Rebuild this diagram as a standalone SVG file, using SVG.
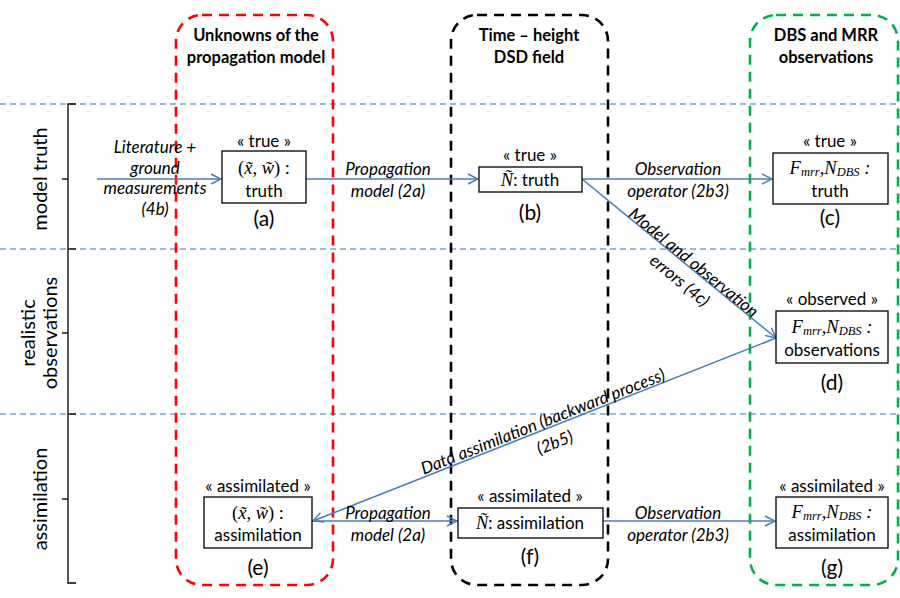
<svg xmlns="http://www.w3.org/2000/svg" width="900" height="598" viewBox="0 0 900 598">
<defs>
<marker id="arr" viewBox="0 0 12 12" refX="11" refY="6" markerWidth="12" markerHeight="12" markerUnits="userSpaceOnUse" orient="auto">
<path d="M1,1 L11,6 L1,11" fill="none" stroke="#4a7ebb" stroke-width="1.5"/>
</marker>
<style>
.t{font-family:Lato,"Open Sans","Liberation Sans",sans-serif;font-size:17px;fill:#000;text-anchor:middle}
.h{font-family:Lato,"Open Sans","Liberation Sans",sans-serif;font-size:16.5px;font-weight:bold;fill:#000;text-anchor:middle}
.i{font-family:Lato,"Open Sans","Liberation Sans",sans-serif;font-size:17px;font-style:italic;fill:#000;text-anchor:middle}
.side{font-family:Lato,"Open Sans","Liberation Sans",sans-serif;font-size:20px;fill:#000;text-anchor:middle}
.lbl{font-size:21px}
.m{font-family:"Liberation Serif","DejaVu Serif",serif;font-style:italic;font-size:18.5px}
.n{font-style:normal}
.sub{font-size:12.5px}
.box{fill:#fff;stroke:#000;stroke-width:1.3}
.conn{stroke:#4a7ebb;stroke-width:1.6;fill:none;marker-end:url(#arr)}
.hd{stroke:#7aa3d4;stroke-width:1.3;stroke-dasharray:6,4}
.col{fill:none;stroke-width:2.6;stroke-dasharray:10,7}
</style>
</defs>
<rect width="900" height="598" fill="#fff"/>
<g id="grid">
<line class="hd" x1="0" y1="104" x2="900" y2="104"/>
<line class="hd" x1="0" y1="249" x2="900" y2="249"/>
<line class="hd" x1="0" y1="414" x2="900" y2="414"/>
</g>
<g id="columns">
<rect class="col" x="176" y="15" width="157" height="570" rx="26" stroke="#ff0000"/>
<rect class="col" x="451" y="15" width="157" height="570" rx="26" stroke="#000"/>
<rect class="col" x="750" y="15" width="148" height="570" rx="26" stroke="#00b050"/>
<text class="h" x="256" y="41">Unknowns of the</text>
<text class="h" x="256" y="63">propagation model</text>
<text class="h" x="529" y="41">Time – height</text>
<text class="h" x="529" y="63">DSD field</text>
<text class="h" x="826" y="41">DBS and MRR</text>
<text class="h" x="826" y="63">observations</text>
</g>
<g id="bracket" stroke="#000" stroke-width="1.3" fill="none">
<path d="M76,104 H68 V583 H76"/>
<line x1="68" y1="249" x2="76" y2="249"/>
<line x1="68" y1="414" x2="76" y2="414"/>
<line x1="62" y1="179" x2="68" y2="179"/>
<line x1="62" y1="333" x2="68" y2="333"/>
<line x1="62" y1="499" x2="68" y2="499"/>
</g>
<g id="rows">
<text class="side" transform="translate(47,179) rotate(-90)">model truth</text>
<text class="side" transform="translate(35,333) rotate(-90)">realistic</text>
<text class="side" transform="translate(57,333) rotate(-90)">observations</text>
<text class="side" transform="translate(47,499) rotate(-90)">assimilation</text>
</g>
<g id="connectors">
<line class="conn" x1="97" y1="179" x2="221" y2="179"/>
<line class="conn" x1="306" y1="179" x2="478" y2="179"/>
<line class="conn" x1="582" y1="179" x2="772" y2="179"/>
<line class="conn" x1="582" y1="179" x2="776" y2="338"/>
<line class="conn" x1="776" y1="338" x2="313" y2="521"/>
<line class="conn" x1="312" y1="521" x2="457" y2="521"/>
<line class="conn" x1="603" y1="521" x2="775" y2="521"/>
<text class="i" x="155" y="153">Literature +</text>
<text class="i" x="155" y="174">ground</text>
<text class="i" x="155" y="194">measurements</text>
<text class="i" x="155" y="215">(4b)</text>
<text class="i" x="388" y="175">Propagation</text>
<text class="i" x="388" y="197">model (2a)</text>
<text class="i" x="678" y="175">Observation</text>
<text class="i" x="678" y="197">operator (2b3)</text>
<text class="i" transform="translate(690,267) rotate(39.3)">Model and observation</text>
<text class="i" transform="translate(676,285) rotate(39.3)">errors (4c)</text>
<text class="i" transform="translate(545,427) rotate(-21.5)">Datd assimilation (backward process)</text>
<text class="i" transform="translate(557,448) rotate(-21.5)">(2b5)</text>
<text class="i" x="388" y="519">Propagation</text>
<text class="i" x="388" y="541">model (2a)</text>
<text class="i" x="678" y="519">Observation</text>
<text class="i" x="678" y="541">operator (2b3)</text>
</g>
<g id="node-a">
<text class="t" x="264" y="147">«  true »</text>
<rect class="box" x="222" y="151" width="84" height="52"/>
<text class="t" x="264" y="174"><tspan class="m n">(</tspan><tspan class="m">x&#771;</tspan><tspan class="m n">, </tspan><tspan class="m">w&#771;</tspan><tspan class="m n">) :</tspan></text>
<text class="t" x="264" y="197">truth</text>
<text class="t lbl" x="264" y="226">(a)</text>
</g>
<g id="node-b">
<text class="t" x="530" y="161">«  true »</text>
<rect class="box" x="479" y="167" width="103" height="25"/>
<text class="t" x="530" y="186"><tspan class="m">Ñ</tspan>: truth</text>
<text class="t lbl" x="530" y="220">(b)</text>
</g>
<g id="node-c">
<text class="t" x="830" y="147">« true »</text>
<rect class="box" x="773" y="153" width="115" height="51"/>
<text class="t" x="830" y="174"><tspan class="m">F</tspan><tspan class="m sub" dy="2">mrr</tspan><tspan class="m" dy="-2">,N</tspan><tspan class="m sub" dy="2">DBS</tspan><tspan class="m" dy="-2"> :</tspan></text>
<text class="t" x="830" y="197">truth</text>
<text class="t lbl" x="830" y="225">(c)</text>
</g>
<g id="node-d">
<text class="t" x="832" y="305">« observed »</text>
<rect class="box" x="776" y="311" width="112" height="52"/>
<text class="t" x="832" y="333"><tspan class="m">F</tspan><tspan class="m sub" dy="2">mrr</tspan><tspan class="m" dy="-2">,N</tspan><tspan class="m sub" dy="2">DBS</tspan><tspan class="m" dy="-2"> :</tspan></text>
<text class="t" x="832" y="356">observations</text>
<text class="t lbl" x="832" y="390">(d)</text>
</g>
<g id="node-e">
<text class="t" x="258" y="492">« assimilated »</text>
<rect class="box" x="204" y="497" width="108" height="51"/>
<text class="t" x="258" y="519"><tspan class="m n">(</tspan><tspan class="m">x&#771;</tspan><tspan class="m n">, </tspan><tspan class="m">w&#771;</tspan><tspan class="m n">) :</tspan></text>
<text class="t" x="258" y="541">assimilation</text>
<text class="t lbl" x="258" y="575">(e)</text>
</g>
<g id="node-f">
<text class="t" x="530" y="502">« assimilated »</text>
<rect class="box" x="458" y="508" width="145" height="30"/>
<text class="t" x="530" y="529"><tspan class="m">Ñ</tspan>: assimilation</text>
<text class="t lbl" x="530" y="564">(f)</text>
</g>
<g id="node-g">
<text class="t" x="832" y="492">« assimilated »</text>
<rect class="box" x="776" y="497" width="112" height="51"/>
<text class="t" x="832" y="518"><tspan class="m">F</tspan><tspan class="m sub" dy="2">mrr</tspan><tspan class="m" dy="-2">,N</tspan><tspan class="m sub" dy="2">DBS</tspan><tspan class="m" dy="-2"> :</tspan></text>
<text class="t" x="832" y="541">assimilation</text>
<text class="t lbl" x="832" y="575">(g)</text>
</g>
</svg>
